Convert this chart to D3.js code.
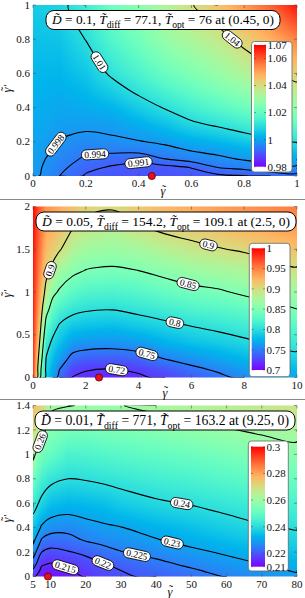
<!DOCTYPE html>
<html><head><meta charset="utf-8">
<script src="https://cdn.jsdelivr.net/npm/d3@7"></script>
<style>body{margin:0;background:#fff}svg{display:block}</style>
</head><body><svg id="c" width="305" height="598"></svg>
<script>
// ---------------- DATA ----------------
// Panel 1 (D=0.1)
const p1_xs = [0, 0.05, 0.1, 0.2, 0.3, 0.4, 0.5, 0.6, 0.7, 0.8, 0.9, 1];
const p1_ys = [0, 0.05, 0.1, 0.15, 0.2, 0.3, 0.4, 0.5, 0.6, 0.8, 1];
const p1_z = [
 [0.9990,0.9970,0.9940,0.9906,0.9898,0.9895,0.9896,0.9899,0.9903,0.9908,0.9920,0.9925],
 [0.9992,0.9974,0.9950,0.9919,0.9906,0.9900,0.9900,0.9911,0.9940,0.9950,0.9962,0.9970],
 [0.9995,0.9979,0.9961,0.9933,0.9925,0.9918,0.9940,0.9955,0.9970,0.9985,1.0000,1.0012],
 [0.9998,0.9986,0.9970,0.9948,0.9948,0.9950,0.9966,0.9982,0.9993,1.0015,1.0035,1.0055],
 [1.0001,0.9993,0.9978,0.9965,0.9972,0.9977,0.9988,1.0012,1.0030,1.0055,1.0080,1.0105],
 [1.0008,1.0004,0.9993,0.9990,0.9993,1.0015,1.0045,1.0085,1.0110,1.0140,1.0170,1.0200],
 [1.0015,1.0013,1.0005,1.0012,1.0025,1.0065,1.0105,1.0145,1.0180,1.0215,1.0250,1.0290],
 [1.0022,1.0021,1.0016,1.0033,1.0070,1.0115,1.0160,1.0200,1.0240,1.0280,1.0320,1.0370],
 [1.0030,1.0030,1.0027,1.0055,1.0112,1.0160,1.0210,1.0250,1.0290,1.0335,1.0380,1.0430],
 [1.0046,1.0048,1.0050,1.0102,1.0175,1.0230,1.0290,1.0330,1.0370,1.0425,1.0480,1.0550],
 [1.0065,1.0072,1.0080,1.0140,1.0220,1.0265,1.0335,1.0395,1.0450,1.0520,1.0590,1.0680]
];
const p1_levels = [0.991, 0.994, 0.998, 1.01, 1.04];
const p1_labels = [[0.991,0.40,0.075],[0.994,0.235,0.129],[0.998,0.083,0.19],[1.01,0.254,0.668],[1.04,0.746,0.785]];
const p1_xticks = [0, 0.2, 0.4, 0.6, 0.8, 1];
const p1_yticks = [0, 0.2, 0.4, 0.6, 0.8, 1];
const p1_cbdom = [0.98, 1.07];
const p1_cbticks = [0.98, 1, 1.02, 1.04, 1.06, 1.07];
const p1_opt = [0.45, 0];
const p1_title = ["0.1", "77.1", "76", "(0.45, 0)"];

// Panel 2 (D=0.05)
const p2_xs = [0, 0.25, 0.5, 0.75, 1, 1.5, 2, 3, 4, 5, 6, 7, 8, 9, 10];
const p2_ys = [0, 0.1, 0.2, 0.4, 0.6, 0.8, 1.0, 1.25, 1.5, 1.75, 2.0];
const p2_z = [
 [0.985,0.858,0.791,0.765,0.742,0.7195,0.7160,0.7148,0.7165,0.7250,0.735,0.744,0.755,0.762,0.770],
 [0.985,0.866,0.793,0.771,0.751,0.727,0.7215,0.7200,0.7240,0.734,0.745,0.754,0.764,0.771,0.778],
 [0.986,0.877,0.797,0.779,0.762,0.740,0.734,0.733,0.737,0.748,0.757,0.765,0.774,0.781,0.789],
 [0.987,0.899,0.812,0.793,0.782,0.763,0.760,0.758,0.762,0.773,0.781,0.787,0.794,0.802,0.810],
 [0.988,0.915,0.836,0.812,0.797,0.785,0.782,0.780,0.786,0.793,0.800,0.806,0.813,0.820,0.829],
 [0.990,0.927,0.862,0.834,0.820,0.808,0.803,0.801,0.807,0.814,0.822,0.826,0.832,0.840,0.850],
 [0.990,0.937,0.888,0.858,0.846,0.830,0.823,0.821,0.826,0.835,0.842,0.846,0.855,0.862,0.870],
 [0.992,0.947,0.910,0.892,0.871,0.857,0.849,0.846,0.850,0.858,0.866,0.872,0.877,0.888,0.896],
 [0.994,0.955,0.922,0.912,0.903,0.880,0.870,0.866,0.872,0.882,0.891,0.898,0.904,0.911,0.918],
 [0.996,0.961,0.932,0.926,0.918,0.901,0.891,0.885,0.896,0.907,0.913,0.920,0.926,0.932,0.938],
 [0.998,0.966,0.941,0.937,0.930,0.920,0.908,0.903,0.915,0.925,0.930,0.937,0.942,0.947,0.952]
];
const p2_levels = [0.72, 0.75, 0.8, 0.85, 0.9];
const p2_labels = [[0.72,3.17,0.09],[0.75,4.31,0.27],[0.8,5.38,0.65],[0.85,5.88,1.10],[0.9,6.64,1.54],[0.9,0.64,1.255]];
const p2_xticks = [0, 2, 4, 6, 8, 10];
const p2_yticks = [0, 0.5, 1, 1.5, 2];
const p2_cbdom = [0.7, 1];
const p2_cbticks = [0.7, 0.75, 0.8, 0.85, 0.9, 0.95, 1];
const p2_opt = [2.5, 0];
const p2_title = ["0.05", "154.2", "109.1", "(2.5, 0)"];

// Panel 3 (D=0.01)
const p3_xs = [5, 7.5, 10, 15, 20, 25, 30, 40, 50, 60, 70, 80];
const p3_ys = [0, 0.05, 0.1, 0.2, 0.3, 0.4, 0.6, 0.8, 1.0, 1.2, 1.4];
const p3_z = [
 [0.2160,0.2125,0.2120,0.2130,0.2155,0.2180,0.2192,0.2212,0.2228,0.2253,0.2272,0.2290],
 [0.2193,0.2138,0.2130,0.2144,0.2167,0.2189,0.2200,0.2223,0.2244,0.2267,0.2286,0.2305],
 [0.2225,0.2155,0.2146,0.2160,0.2180,0.2197,0.2213,0.2238,0.2259,0.2280,0.2300,0.2320],
 [0.2275,0.2200,0.2186,0.2197,0.2210,0.2232,0.2248,0.2265,0.2288,0.2308,0.2330,0.2350],
 [0.2315,0.2245,0.2229,0.2235,0.2255,0.2265,0.2275,0.2297,0.2318,0.2340,0.2362,0.2380],
 [0.2355,0.2290,0.2270,0.2265,0.2280,0.2290,0.2298,0.2322,0.2345,0.2370,0.2392,0.2405],
 [0.2435,0.2378,0.2345,0.2330,0.2335,0.2345,0.2365,0.2390,0.2405,0.2425,0.2445,0.2460],
 [0.2525,0.2450,0.2420,0.2400,0.2405,0.2415,0.2425,0.2445,0.2460,0.2480,0.2500,0.2515],
 [0.2625,0.2530,0.2505,0.2460,0.2465,0.2475,0.2485,0.2500,0.2515,0.2535,0.2555,0.2570],
 [0.2700,0.2630,0.2560,0.2535,0.2530,0.2540,0.2545,0.2560,0.2580,0.2595,0.2612,0.2628],
 [0.2770,0.2720,0.2615,0.2603,0.2595,0.2598,0.2598,0.2620,0.2640,0.2655,0.2670,0.2685]
];
const p3_levels = [0.215, 0.22, 0.225, 0.23, 0.24, 0.26];
const p3_labels = [[0.215,14.1,0.066],[0.22,25.0,0.12],[0.225,34.5,0.175],[0.23,44.4,0.262],[0.24,47.2,0.59],[0.26,7.47,1.10]];
const p3_xticks = [5, 10, 20, 30, 40, 50, 60, 70, 80];
const p3_yticks = [0, 0.2, 0.4, 0.6, 0.8, 1, 1.2, 1.4];
const p3_cbdom = [0.21, 0.3];
const p3_cbticks = [0.21, 0.22, 0.24, 0.26, 0.28, 0.3];
const p3_opt = [9.25, 0];
const p3_title = ["0.01", "771", "163.2", "(9.25, 0)"];

// ---------------- LAYOUT ----------------
const L = 33, R = 297, PH = 171;
const FONT = "'Liberation Serif','Times New Roman',serif";
const panels = [
 {xs:p1_xs, ys:p1_ys, z:p1_z, levels:p1_levels, labels:p1_labels, xticks:p1_xticks, yticks:p1_yticks,
  xdom:[0,1], ydom:[0,1], cbdom:p1_cbdom, cbticks:p1_cbticks, opt:p1_opt, title:p1_title,
  lay:{top:5, bar:[254,45,12,121.7], box:[251.5,41.5,40.5,130.5], xl:163, yl:88, tl:[46,280]}},
 {xs:p2_xs, ys:p2_ys, z:p2_z, levels:p2_levels, labels:p2_labels, xticks:p2_xticks, yticks:p2_yticks,
  xdom:[0,10], ydom:[0,2], cbdom:p2_cbdom, cbticks:p2_cbticks, opt:p2_opt, title:p2_title,
  lay:{top:206.5, bar:[251.7,248.3,13.3,121.7], box:[249.3,243.3,40.7,133.4], xl:165, yl:293, tl:[36,296]}},
 {xs:p3_xs, ys:p3_ys, z:p3_z, levels:p3_levels, labels:p3_labels, xticks:p3_xticks, yticks:p3_yticks,
  xdom:[5,80], ydom:[0,1.4], cbdom:p3_cbdom, cbticks:p3_cbticks, opt:p3_opt, title:p3_title,
  lay:{top:405.5, bar:[251,446.7,14,120], box:[248.3,441,40,130], xl:170, yl:518, tl:[35,295]}}
];

// ---------------- HELPERS ----------------
const clamp = (v,a,b)=>Math.max(a,Math.min(b,v));
function rainbow(t){
  t = clamp(t,0,1);
  const r = clamp(Math.abs(2*t-0.5),0,1), g = Math.sin(Math.PI*t), b = Math.cos(Math.PI*t/2);
  return [Math.round(r*255), Math.round(g*255), Math.round(clamp(b,0,1)*255)];
}
function locate(arr, v){
  let i = d3.bisectRight(arr, v) - 1;
  i = clamp(i, 0, arr.length-2);
  const t = clamp((v-arr[i])/(arr[i+1]-arr[i]),0,1);
  return [i,t];
}
function fieldAt(p, x, y){
  const [i,tx] = locate(p.xs,x), [j,ty] = locate(p.ys,y), z=p.z;
  return (1-ty)*((1-tx)*z[j][i]+tx*z[j][i+1]) + ty*((1-tx)*z[j+1][i]+tx*z[j+1][i+1]);
}
function g2d(c, arr){
  const n = arr.length;
  let g = clamp(c-0.5, 0, n-1);
  let i = Math.min(Math.floor(g), n-2), t = g-i;
  return arr[i] + (arr[i+1]-arr[i])*t;
}
// gamma with tilde (and optional prime), drawn in a local group
function gammaLabel(sel, transform, prime){
  const gg = sel.append('g').attr('transform',transform)
    .attr('font-family',FONT).attr('font-style','italic').attr('fill','#111');
  const off = prime ? -2 : 0;
  gg.append('text').text('\u03B3').attr('x',off).attr('y',0).attr('text-anchor','middle').attr('font-size',12.5);
  gg.append('text').text('\u02DC').attr('x',off+1).attr('y',-1.2).attr('text-anchor','middle').attr('font-size',12).attr('font-style','normal');
  if(prime) gg.append('text').text('\u2032').attr('x',off+3.6).attr('y',-0.5).attr('font-size',11).attr('font-style','normal');
}

const svg = d3.select('#c');
const defs = svg.append('defs');

// separators
[199.5, 399.5].forEach(yy=>svg.append('line').attr('x1',0).attr('x2',305).attr('y1',yy).attr('y2',yy)
  .attr('stroke','#8a8a8a').attr('stroke-width',1));

panels.forEach((p, pi)=>{
  const lay = p.lay, top = lay.top, bottom = top + PH;
  const x = d3.scaleLinear().domain(p.xdom).range([L,R]);
  const y = d3.scaleLinear().domain(p.ydom).range([bottom, top]);
  const cdom = p.cbdom;
  const col = v => rainbow((v-cdom[0])/(cdom[1]-cdom[0]));
  const g = svg.append('g');

  // heatmap
  const W = R-L, Hh = PH;
  const cv = document.createElement('canvas'); cv.width = W; cv.height = Hh;
  const ctx = cv.getContext('2d'); const img = ctx.createImageData(W,Hh);
  for(let r=0;r<Hh;r++){
    const dy = y.invert(top+r+0.5);
    for(let c=0;c<W;c++){
      const dx = x.invert(L+c+0.5);
      const [rr,gg,bb] = col(fieldAt(p,dx,dy));
      const k = 4*(r*W+c);
      img.data[k]=rr; img.data[k+1]=gg; img.data[k+2]=bb; img.data[k+3]=255;
    }
  }
  ctx.putImageData(img,0,0);
  g.append('image').attr('x',L).attr('y',top).attr('width',W).attr('height',Hh)
    .attr('preserveAspectRatio','none').attr('href',cv.toDataURL());

  // clip
  const cid = 'clip'+pi;
  defs.append('clipPath').attr('id',cid).append('rect').attr('x',L).attr('y',top).attr('width',W).attr('height',Hh);

  // contours
  const nx = p.xs.length, ny = p.ys.length;
  const flat = p.z.flat();
  const cs = d3.contours().size([nx,ny]).thresholds(p.levels)(flat);
  const isB = q => q[0]===0 || q[0]===nx || q[1]===0 || q[1]===ny;
  const chainsByLevel = {};
  cs.forEach(cn=>{
    const chains = [];
    cn.coordinates.forEach(poly=>poly.forEach(ring=>{
      const pieces = []; let cur = [];
      for(let k=0;k<ring.length-1;k++){
        const a = ring[k], b = ring[k+1];
        if(isB(a) && isB(b)){ if(cur.length>1) pieces.push({pts:cur,s:cur.s}); cur=[]; }
        else { if(cur.length===0){ cur.push(a); cur.s=k; } cur.push(b); }
      }
      if(cur.length>1) pieces.push({pts:cur,s:cur.s});
      if(pieces.length>1 && pieces[0].s===0 && !isB(ring[0])){
        const last = pieces.pop();
        pieces[0].pts = last.pts.concat(pieces[0].pts.slice(1));
      }
      pieces.forEach(pc=>{
        const pts = [];
        pc.pts.forEach(q=>{
          const px = x(g2d(q[0],p.xs)), py = y(g2d(q[1],p.ys));
          const lp = pts[pts.length-1];
          if(!lp || Math.hypot(lp[0]-px, lp[1]-py) > 0.3) pts.push([px,py]);
        });
        if(pts.length>1) chains.push(pts);
      });
    }));
    chainsByLevel[cn.value] = chains;
  });
  const lineGen = d3.line().curve(d3.curveCatmullRom.alpha(0.5));
  const cg = g.append('g').attr('clip-path',`url(#${cid})`);
  Object.values(chainsByLevel).forEach(chains=>chains.forEach(ch=>{
    cg.append('path').attr('d',lineGen(ch)).attr('fill','none').attr('stroke','#000').attr('stroke-width',1.1);
  }));

  // contour labels
  const fmt = d3.format('~g');
  p.labels.forEach(([lv,lx,ly])=>{
    const chains = chainsByLevel[lv] || [];
    const hx = x(lx), hy = y(ly);
    let best = null;
    chains.forEach(ch=>{
      for(let k=0;k<ch.length-1;k++){
        const a=ch[k], b=ch[k+1];
        const vx=b[0]-a[0], vy=b[1]-a[1], l2=vx*vx+vy*vy||1e-9;
        const t = clamp(((hx-a[0])*vx+(hy-a[1])*vy)/l2,0,1);
        const qx=a[0]+t*vx, qy=a[1]+t*vy, d=Math.hypot(qx-hx,qy-hy);
        if(!best || d<best.d) best={d,qx,qy,ang:Math.atan2(vy,vx)*180/Math.PI};
      }
    });
    let cx = hx, cy = hy, ang = 0;
    if(best){ cx=best.qx; cy=best.qy; ang=best.ang; }
    if(ang>90) ang-=180; if(ang<=-90) ang+=180;
    const lg = g.append('g').attr('transform',`translate(${cx},${cy}) rotate(${ang})`);
    const tx = lg.append('text').text(fmt(lv)).attr('font-family',FONT).attr('font-size',9.5)
      .attr('text-anchor','middle').attr('dy','0.34em').attr('fill','#000');
    const tw = tx.node().getComputedTextLength();
    lg.insert('rect','text').attr('x',-tw/2-3).attr('y',-5).attr('width',tw+6).attr('height',10)
      .attr('rx',5).attr('fill','#fff').attr('stroke','#000').attr('stroke-width',0.8);
  });

  // ticks (inward) on all sides
  const tk = g.append('g').attr('stroke','#555').attr('stroke-width',0.6);
  p.xticks.forEach(v=>{
    tk.append('line').attr('x1',x(v)).attr('x2',x(v)).attr('y1',bottom).attr('y2',bottom-3);
    tk.append('line').attr('x1',x(v)).attr('x2',x(v)).attr('y1',top).attr('y2',top+3);
  });
  p.yticks.forEach(v=>{
    tk.append('line').attr('y1',y(v)).attr('y2',y(v)).attr('x1',L).attr('x2',L+3);
    tk.append('line').attr('y1',y(v)).attr('y2',y(v)).attr('x1',R).attr('x2',R-3);
  });

  // tick labels
  p.xticks.forEach(v=>g.append('text').text(fmt(v)).attr('x',x(v)).attr('y',bottom+11)
    .attr('text-anchor','middle').attr('font-family',FONT).attr('font-size',11).attr('fill','#111'));
  p.yticks.forEach(v=>g.append('text').text(fmt(v)).attr('x',30).attr('y',y(v)).attr('dy','0.33em')
    .attr('text-anchor','end').attr('font-family',FONT).attr('font-size',11).attr('fill','#111'));

  // axis labels
  gammaLabel(g, `translate(${lay.xl},${bottom+19})`, false);
  gammaLabel(g, `translate(11,${lay.yl}) rotate(-90)`, true);

  // title box
  const tg = g.append('g');
  const cxT = (lay.tl[0]+lay.tl[1])/2, cyT = top + 15;
  function buildTitle(fs){
    tg.selectAll('*').remove();
    const t = tg.append('text').attr('x',cxT).attr('y',cyT).attr('dy','0.33em').attr('text-anchor','middle')
      .attr('font-family',FONT).attr('font-size',fs).attr('fill','#000');
    const sub = fs*0.28;
    const parts = [
      ['D\u0303',1,0,0],[' = '+p.title[0]+', ',0,0,0],
      ['T\u0303',1,0,0],['diff',0,1,sub],[' = '+p.title[1]+', ',0,0,-sub],
      ['T\u0303',1,0,0],['opt',0,1,sub],[' = '+p.title[2]+' at '+p.title[3],0,0,-sub]
    ];
    parts.forEach(([s,it,sb,dy])=>{
      const ts = t.append('tspan').text(s);
      if(it) ts.attr('font-style','italic');
      if(sb) ts.attr('font-size',fs*0.72);
      if(dy) ts.attr('dy',dy);
    });
    return t;
  }
  let t0 = buildTitle(13);
  const target = (lay.tl[1]-lay.tl[0]) - 12;
  const fs = 13*target/t0.node().getComputedTextLength();
  t0 = buildTitle(Math.min(fs,14));
  tg.insert('rect','text').attr('x',lay.tl[0]).attr('y',cyT-9.5).attr('width',lay.tl[1]-lay.tl[0]).attr('height',19)
    .attr('rx',8).attr('fill','#fff').attr('stroke','#000').attr('stroke-width',1);

  // colorbar
  const [bx,by,bw,bh] = lay.bar, [ox,oy,ow,oh] = lay.box;
  g.append('rect').attr('x',ox).attr('y',oy).attr('width',ow).attr('height',oh).attr('rx',3)
    .attr('fill','#fff').attr('stroke','#666').attr('stroke-width',0.8);
  const gid = 'grad'+pi;
  const grad = defs.append('linearGradient').attr('id',gid).attr('x1',0).attr('y1',1).attr('x2',0).attr('y2',0);
  d3.range(0,1.0001,0.05).forEach(t=>{
    const [r,gg,b] = rainbow(t);
    grad.append('stop').attr('offset',t).attr('stop-color',`rgb(${r},${gg},${b})`);
  });
  g.append('rect').attr('x',bx).attr('y',by).attr('width',bw).attr('height',bh).attr('fill',`url(#${gid})`);
  const cbs = d3.scaleLinear().domain(cdom).range([by+bh, by]);
  p.cbticks.forEach(v=>{
    const yy = cbs(v);
    g.append('line').attr('x1',bx).attr('x2',bx+2).attr('y1',yy).attr('y2',yy).attr('stroke','#444').attr('stroke-width',0.5);
    g.append('line').attr('x1',bx+bw-2).attr('x2',bx+bw).attr('y1',yy).attr('y2',yy).attr('stroke','#444').attr('stroke-width',0.5);
    g.append('text').text(fmt(v)).attr('x',bx+bw+1.5).attr('y',yy).attr('dy','0.35em')
      .attr('font-family',FONT).attr('font-size',11).attr('fill','#111');
  });

  // optimum dot
  g.append('circle').attr('cx',x(p.opt[0])).attr('cy',y(p.opt[1])).attr('r',3.6)
    .attr('fill','#e8101a').attr('stroke','#5a0000').attr('stroke-width',0.8);
});
</script></body></html>
